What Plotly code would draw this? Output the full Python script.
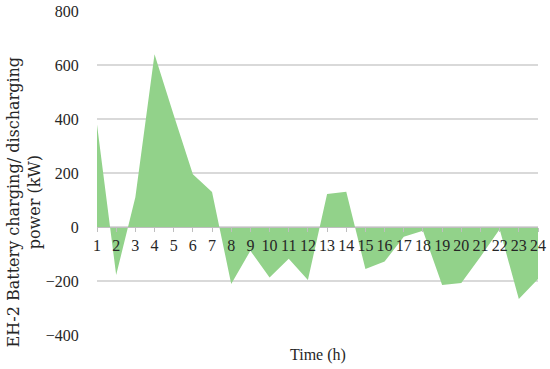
import plotly.graph_objects as go

hours = list(range(1, 25))
power_kw = [380, -178, 110, 640, 415, 195, 130, -211, -88, -187, -118, -196,
            122, 131, -156, -128, -36, -14, -215, -207, -110, -8, -267, -193]
y_ticks = [-400, -200, 0, 200, 400, 600, 800]
y_tick_text = ["\u2212400", "\u2212200", "0", "200", "400", "600", "800"]

green = "rgb(146,210,138)"
grid = "#d9d9d9"
serif = "Liberation Serif"

fig = go.Figure()
fig.add_trace(go.Scatter(
    x=hours, y=power_kw,
    mode="lines", fill="tozeroy",
    line=dict(width=0, color=green),
    fillcolor=green,
    hoverinfo="skip",
    showlegend=False,
))

fig.update_layout(
    width=550, height=369,
    margin=dict(l=97, r=12, t=11, b=34),
    paper_bgcolor="white", plot_bgcolor="white",
    font=dict(family=serif, size=16, color="#262626"),
    xaxis=dict(
        range=[1, 24], tickmode="array", tickvals=hours,
        ticktext=[str(h) for h in hours],
        anchor="free", position=1 / 3, automargin=False,
        showline=True, linecolor="#bfbfbf", linewidth=1,
        ticks="outside", ticklen=4, tickcolor="#bfbfbf",
        showgrid=False, zeroline=False,
        tickfont=dict(family=serif, size=16, color="#262626"),
    ),
    yaxis=dict(
        range=[-400, 800], tickvals=y_ticks, ticktext=y_tick_text,
        automargin=False,
        showgrid=True, gridcolor=grid, gridwidth=1.5,
        zeroline=False, showline=False,
        ticks="outside", ticklen=14, tickcolor="rgba(0,0,0,0)",
        tickfont=dict(family=serif, size=16, color="#262626"),
    ),
    annotations=[
        dict(text="Time (h)", xref="paper", yref="paper", x=0.5, y=0,
             xanchor="center", yanchor="top", yshift=-9, showarrow=False,
             font=dict(family=serif, size=16, color="#262626")),
        dict(text="EH-2 Battery charging/ discharging<br>power (kW)",
             xref="paper", yref="paper", x=-0.165, y=0.41,
             xanchor="center", yanchor="middle", textangle=-90,
             showarrow=False, align="center",
             font=dict(family="DejaVu Serif", size=16, color="#262626")),
    ],
)

# page body has a default 8px margin; drop it so the figure fills the window
fig.write_html("out.html", config={"displayModeBar": False},
               post_script="document.body.style.margin='0';")
